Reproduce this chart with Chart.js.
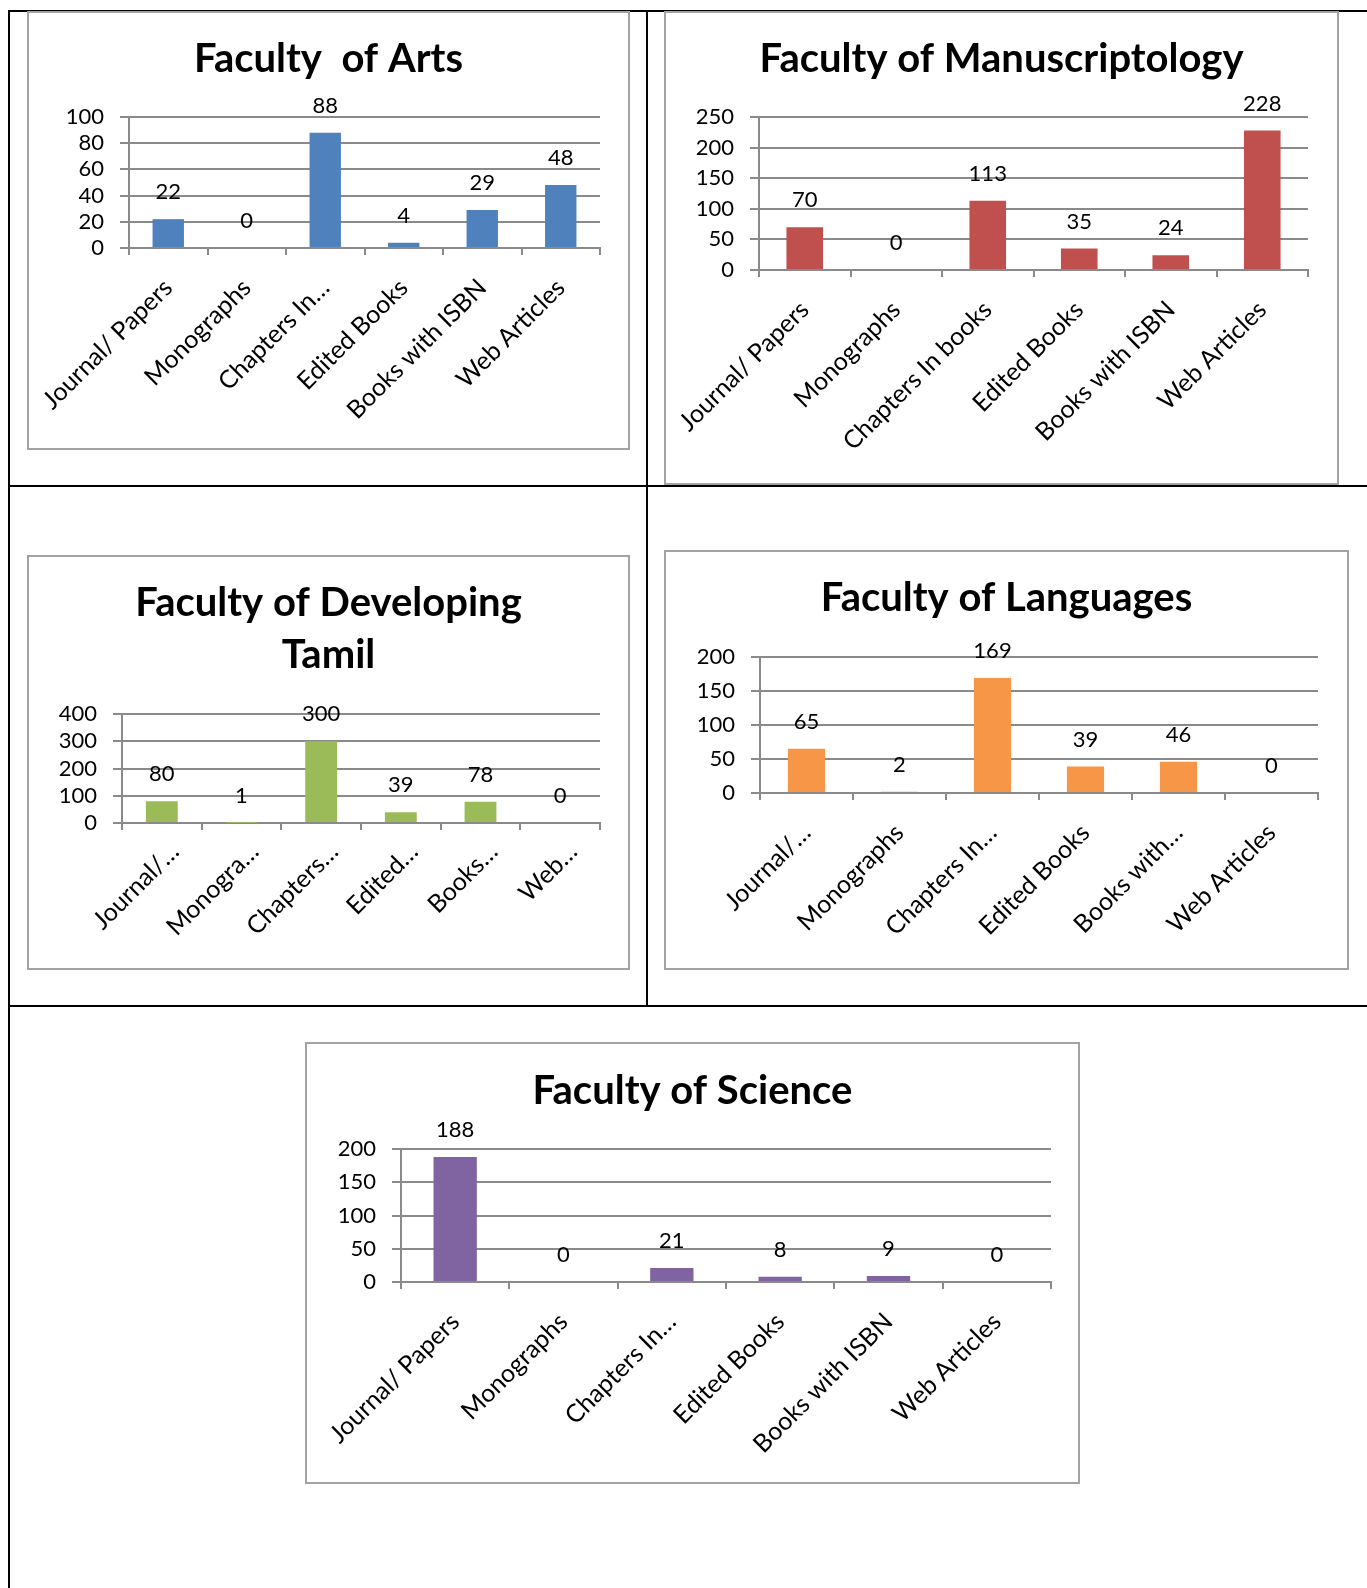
<!DOCTYPE html>
<html>
<head>
<meta charset="utf-8">
<script src="https://cdn.jsdelivr.net/npm/chart.js@4.4.1/dist/chart.umd.min.js"></script>
<style>
  html, body { margin: 0; padding: 0; background: #fff; }
  body { width: 1367px; height: 1588px; position: relative; overflow: hidden; font-family: Lato, sans-serif; }
  .rule { position: absolute; background: #000; }
  .box { position: absolute; border: 2px solid #a3a3a3; box-sizing: border-box; background: #fff; }
  .box canvas { position: absolute; left: 0; top: 0; }
</style>
</head>
<body>

<div class="rule" style="left:8px;top:10px;width:1359px;height:2px"></div>
<div class="rule" style="left:8px;top:10px;width:2px;height:1578px"></div>
<div class="rule" style="left:646px;top:10px;width:2px;height:997px"></div>
<div class="rule" style="left:8px;top:485px;width:1359px;height:2px"></div>
<div class="rule" style="left:8px;top:1005px;width:1359px;height:2px"></div>

<div class="box" style="left:27px;top:11px;width:603px;height:439px"><canvas id="artsChart" width="599" height="435"></canvas></div>
<div class="box" style="left:664px;top:11px;width:675px;height:474px"><canvas id="manuChart" width="671" height="470"></canvas></div>
<div class="box" style="left:27px;top:555px;width:603px;height:415px"><canvas id="tamilChart" width="599" height="411"></canvas></div>
<div class="box" style="left:664px;top:550px;width:685px;height:420px"><canvas id="langChart" width="681" height="416"></canvas></div>
<div class="box" style="left:305px;top:1042px;width:775px;height:442px"><canvas id="sciChart" width="771" height="438"></canvas></div>

<script>
/* ===============================
   DATA
================================ */
const artsTitle = 'Faculty  of Arts';
const artsLabels = ['Journal/ Papers', 'Monographs', 'Chapters In…', 'Edited Books', 'Books with ISBN', 'Web Articles'];
const artsValues = [22, 0, 88, 4, 29, 48];
const artsTicks = { max: 100, step: 20 };

const manuTitle = 'Faculty of Manuscriptology';
const manuLabels = ['Journal/ Papers', 'Monographs', 'Chapters In books', 'Edited Books', 'Books with ISBN', 'Web Articles'];
const manuValues = [70, 0, 113, 35, 24, 228];
const manuTicks = { max: 250, step: 50 };

const tamilTitle = ['Faculty of Developing', 'Tamil'];
const tamilLabels = ['Journal/…', 'Monogra…', 'Chapters…', 'Edited…', 'Books…', 'Web…'];
const tamilValues = [80, 1, 300, 39, 78, 0];
const tamilTicks = { max: 400, step: 100 };

const langTitle = 'Faculty of Languages';
const langLabels = ['Journal/…', 'Monographs', 'Chapters In…', 'Edited Books', 'Books with…', 'Web Articles'];
const langValues = [65, 2, 169, 39, 46, 0];
const langTicks = { max: 200, step: 50 };

const sciTitle = 'Faculty of Science';
const sciLabels = ['Journal/ Papers', 'Monographs', 'Chapters In…', 'Edited Books', 'Books with ISBN', 'Web Articles'];
const sciValues = [188, 0, 21, 8, 9, 0];
const sciTicks = { max: 200, step: 50 };

/* ===============================
   STYLE
================================ */
const GRID = '#8a8a8a';
const FONT = 'Lato';
const TITLE_LH = 52;

// value labels sit above each bar
const valueLabels = {
    id: 'valueLabels',
    afterDatasetsDraw(chart) {
        const ctx = chart.ctx;
        const ds = chart.data.datasets[0];
        ctx.save();
        ctx.font = '22px ' + FONT;
        ctx.fillStyle = '#000';
        ctx.textAlign = 'center';
        ctx.textBaseline = 'middle';
        chart.getDatasetMeta(0).data.forEach((bar, i) => {
            ctx.fillText(String(ds.data[i]), bar.x, bar.y - 27);
        });
        ctx.restore();
    }
};

/* ===============================
   CREATE CHART
================================ */
function createBarChart(id, title, labels, values, ticks, color, geo) {
    const el = document.getElementById(id);
    const W = el.width, H = el.height;
    const lines = Array.isArray(title) ? title.length : 1;
    const padTop = geo.titleY - TITLE_LH / 2;
    const padBottom = geo.top - padTop - TITLE_LH * lines;

    return new Chart(el, {
        type: 'bar',
        data: {
            labels: labels,
            datasets: [{
                data: values,
                backgroundColor: color,
                barPercentage: 0.4,
                categoryPercentage: 1
            }]
        },
        options: {
            responsive: false,
            animation: false,
            layout: { padding: 0 },
            plugins: {
                legend: { display: false },
                tooltip: { enabled: false },
                title: {
                    display: true,
                    text: title,
                    color: '#000',
                    font: { family: FONT, weight: 'bold', size: 40, lineHeight: TITLE_LH / 40 },
                    padding: { top: padTop, bottom: padBottom }
                }
            },
            scales: {
                x: {
                    grid: { drawOnChartArea: false, color: GRID, lineWidth: 2, tickLength: 7, offset: true },
                    border: { color: GRID, width: 2 },
                    ticks: {
                        color: '#000',
                        font: { family: FONT, size: 25 },
                        minRotation: 45,
                        maxRotation: 45,
                        autoSkip: false,
                        padding: geo.labelPad ?? 18,
                        labelOffset: geo.labelShift ?? 0
                    },
                    afterFit: s => {
                        s.height = H - geo.bottom;
                        s.paddingLeft = 0;
                        s.paddingRight = 0;
                    }
                },
                y: {
                    min: 0,
                    max: ticks.max,
                    grid: { color: GRID, lineWidth: 2, tickLength: 9 },
                    border: { color: GRID, width: 2 },
                    ticks: {
                        stepSize: ticks.step,
                        autoSkip: false,
                        color: '#000',
                        font: { family: FONT, size: 22 },
                        padding: 16
                    },
                    afterFit: s => { s.width = geo.left; }
                },
                // empty right-hand gutter so the title stays centred on the box
                gutter: {
                    position: 'right',
                    grid: { display: false },
                    border: { display: false },
                    ticks: { display: false },
                    afterFit: s => {
                        s.width = W - geo.right;
                        s.paddingTop = 0;
                        s.paddingBottom = 0;
                    }
                }
            }
        },
        plugins: [valueLabels]
    });
}

createBarChart('artsChart', artsTitle, artsLabels, artsValues, artsTicks, '#4F81BD',
    { left: 100, right: 571, top: 104, bottom: 235, titleY: 46 });
createBarChart('manuChart', manuTitle, manuLabels, manuValues, manuTicks, '#C0504D',
    { left: 93, right: 642, top: 104, bottom: 257, titleY: 46 });
createBarChart('tamilChart', tamilTitle, tamilLabels, tamilValues, tamilTicks, '#9BBB59',
    { left: 93, right: 571, top: 157, bottom: 266, titleY: 46, labelPad: 7, labelShift: 13 });
createBarChart('langChart', langTitle, langLabels, langValues, langTicks, '#F79646',
    { left: 94, right: 652, top: 105, bottom: 241, titleY: 46 });
createBarChart('sciChart', sciTitle, sciLabels, sciValues, sciTicks, '#8064A2',
    { left: 94, right: 744, top: 105, bottom: 238, titleY: 47 });
</script>
</body>
</html>
